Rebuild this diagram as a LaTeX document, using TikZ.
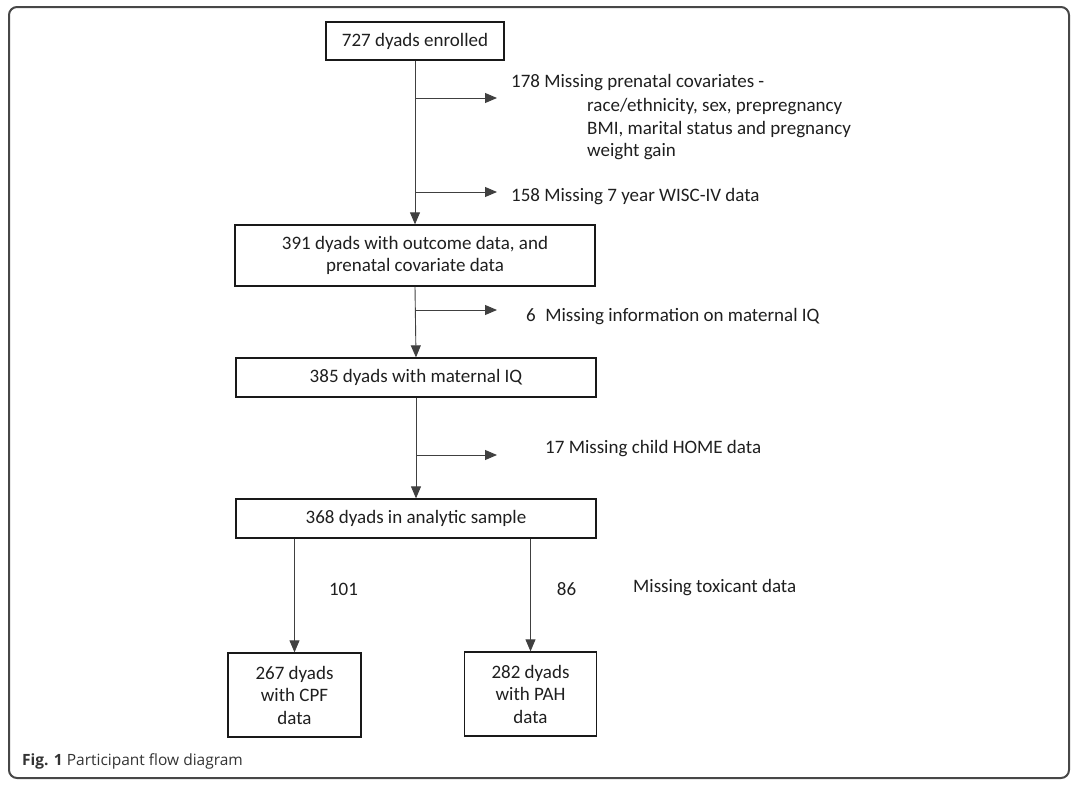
\documentclass[tikz,border=0pt]{standalone}
\usepackage{fontspec}
\setmainfont{Carlito}
\newfontfamily\capfont{Open Sans}
\usetikzlibrary{arrows.meta}
\begin{document}
\begin{tikzpicture}[x=1pt,y=-1pt,
  txt/.style={font=\fontsize{19}{22.5}\selectfont, text=black!88, inner sep=0pt},
  box/.style={txt, draw=black!90, line width=1.3pt, align=center, minimum width=#1},
  arr/.style={line width=0.9pt, draw=black!75, -{Triangle[length=12pt,width=10pt]}},
  ln/.style={line width=0.9pt}]
\useasboundingbox (0,0) rectangle (1080,788);
\draw[line width=2pt, draw=black!72, rounded corners=8pt] (9,7) rectangle (1069,778);

% boxes
\node[box=178, minimum height=38] (b1) at (415,41) {727 dyads enrolled};
\node[box=360, minimum height=61] (b2) at (415,255.5) {391 dyads with outcome data, and\\prenatal covariate data};
\node[box=360, minimum height=39] (b3) at (416,377.5) {385 dyads with maternal IQ};
\node[box=360, minimum height=39] (b4) at (416,518.5) {368 dyads in analytic sample};
\node[box=133, minimum height=84] (b5) at (294.5,695) {267 dyads\\with CPF\\data};
\node[box=132, minimum height=84] (b6) at (530.5,694) {282 dyads\\with PAH\\data};

% vertical flow
\draw[arr] (b1.south) -- (b2.north);
\draw[arr] (b2.south) -- (b3.north);
\draw[arr] (b3.south) -- (b4.north);
\draw[arr] (b5.north |- b4.south) -- (b5.north);
\draw[arr] (b6.north |- b4.south) -- (b6.north);

% branch arrows
\coordinate (j1) at (415,98);  \coordinate (e1) at (497,98);
\coordinate (j2) at (415,192); \coordinate (e2) at (497,192);
\coordinate (j3) at (416,310); \coordinate (e3) at (497,310);
\coordinate (j4) at (416,455); \coordinate (e4) at (497,455);
\draw[arr] (j1) -- (e1);
\draw[arr] (j2) -- (e2);
\draw[arr] (j3) -- (e3);
\draw[arr] (j4) -- (e4);

% exclusion texts
\node[txt, anchor=west] (m1) at (511,83) {178 Missing prenatal covariates -};
\node[txt, anchor=west, align=left] (m1b) at (587,129.5) {race/ethnicity, sex, prepregnancy\\BMI, marital status and pregnancy\\weight gain};
\node[txt, anchor=west] (m2) at (511,197) {158 Missing 7 year WISC-IV data};
\node[txt, anchor=west] (m3) at (526,317) {6\enspace Missing information on maternal IQ};
\node[txt, anchor=west] (m4) at (545,449) {17 Missing child HOME data};
\node[txt] (n1) at (343.5,589) {101};
\node[txt] (n2) at (566.5,589) {86};
\node[txt, anchor=west] (m5) at (633,588) {Missing toxicant data};

% caption
\node[inner sep=0pt, anchor=west, font=\capfont\fontsize{15.5}{18}\selectfont, text=black!80] (cap) at (22,761) {\textbf{Fig. 1} Participant flow diagram};
\end{tikzpicture}
\end{document}
